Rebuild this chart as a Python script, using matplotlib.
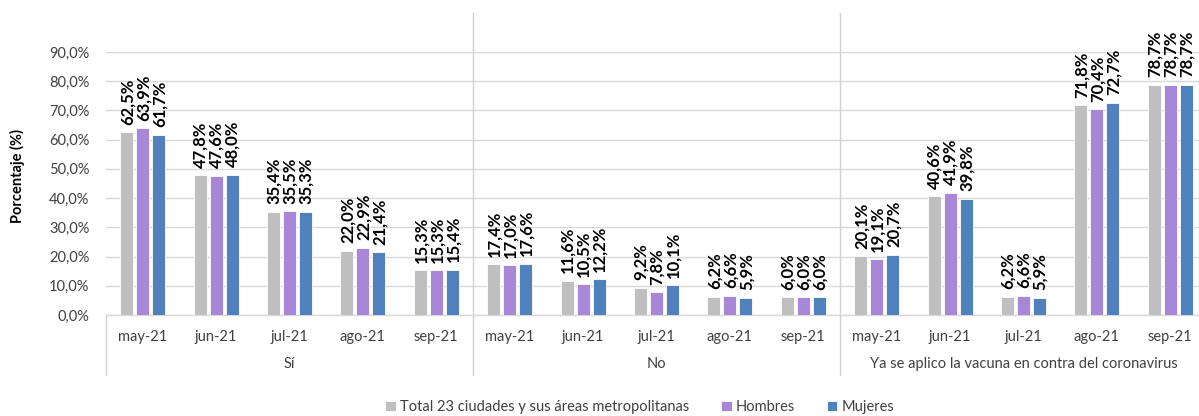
import matplotlib
matplotlib.use("Agg")
import matplotlib.pyplot as plt
import matplotlib.transforms as mtransforms
import numpy as np

plt.rcParams['font.family'] = ['Lato', 'DejaVu Sans']

months = ["may-21", "jun-21", "jul-21", "ago-21", "sep-21"]
groups = ["Sí", "No", "Ya se aplico la vacuna en contra del coronavirus"]
series_names = ["Total 23 ciudades y sus áreas metropolitanas", "Hombres", "Mujeres"]
total = [62.5, 47.8, 35.4, 22.0, 15.3,
         17.4, 11.6, 9.2, 6.2, 6.0,
         20.1, 40.6, 6.2, 71.8, 78.7]
hombres = [63.9, 47.6, 35.5, 22.9, 15.3,
           17.0, 10.5, 7.8, 6.6, 6.0,
           19.1, 41.9, 6.6, 70.4, 78.7]
mujeres = [61.7, 48.0, 35.3, 21.4, 15.4,
           17.6, 12.2, 10.1, 5.9, 6.0,
           20.7, 39.8, 5.9, 72.7, 78.7]
colors = ["#BFBFBF", "#A886D8", "#4F81BD"]
yticks = np.arange(0, 91, 10)

W, H = 1199, 416
fig = plt.figure(figsize=(W / 100, H / 100), dpi=100)
ax_left = 106 / W
ax_bottom = 1 - 315 / H
ax_top = 1 - 52 / H
ax_width = (1207 - 106) / W
ax = fig.add_axes([ax_left, ax_bottom, ax_width, ax_top - ax_bottom])

n = len(total)
x = np.arange(n)
bw = 0.177
pitch = 0.218
for i, (vals, c) in enumerate(zip([total, hombres, mujeres], colors)):
    xs = x + (i - 1) * pitch
    ax.bar(xs, vals, width=bw, color=c, edgecolor="white", linewidth=0.6,
           label=series_names[i], zorder=3)
    for xi, v in zip(xs, vals):
        ax.annotate(f"{v:.1f}%".replace(".", ","), (xi, v), xytext=(0.5, 5.5),
                    textcoords="offset points", rotation=90, ha="center", va="bottom",
                    fontsize=12, fontweight="bold", color="black", clip_on=False,
                    zorder=4)

ax.set_xlim(-0.5, n - 0.5)
ax.set_ylim(0, 90)
ax.set_yticks(yticks)
ax.set_yticklabels([f"{t:.1f}%".replace(".", ",") for t in yticks], fontsize=10.5, color="#404040")
ax.tick_params(axis="y", length=0, pad=12)
ax.yaxis.grid(True, color="#D9D9D9", linewidth=1, zorder=0)
ax.set_axisbelow(True)
for s in ["left", "right", "top"]:
    ax.spines[s].set_visible(False)
ax.spines["bottom"].set_color("#D9D9D9")
ax.spines["bottom"].set_linewidth(1)

ax.set_xticks(x)
ax.set_xticklabels(months * 3, fontsize=10.5, color="#404040")
ax.tick_params(axis="x", length=0, pad=11)

trans = mtransforms.blended_transform_factory(ax.transData, ax.transAxes)
hpx = 315 - 52
for b in [-0.5, 4.5, 9.5]:
    top = (315 - 13) / hpx if b > 0 else 0
    ax.plot([b, b], [-(375 - 315) / hpx, top], transform=trans, color="#D0D0D0",
            linewidth=1, clip_on=False, zorder=2)
for gi, g in enumerate(groups):
    ax.text(gi * 5 + 2, -(364 - 315) / hpx, g, transform=trans, ha="center", va="center",
            fontsize=10.5, color="#404040")

fig.text(17 / W, 1 - 176 / H, "Porcentaje (%)", rotation=90, ha="center", va="center",
         fontsize=10.5, fontweight="bold", color="black")

fig.legend(loc="center", bbox_to_anchor=(640 / W, 1 - 407 / H), ncol=3, frameon=False,
           fontsize=10.5, handlelength=0.7, handleheight=0.7, handletextpad=0.3,
           columnspacing=2.2, labelcolor="#404040")

fig.savefig("out.png", dpi=100)
